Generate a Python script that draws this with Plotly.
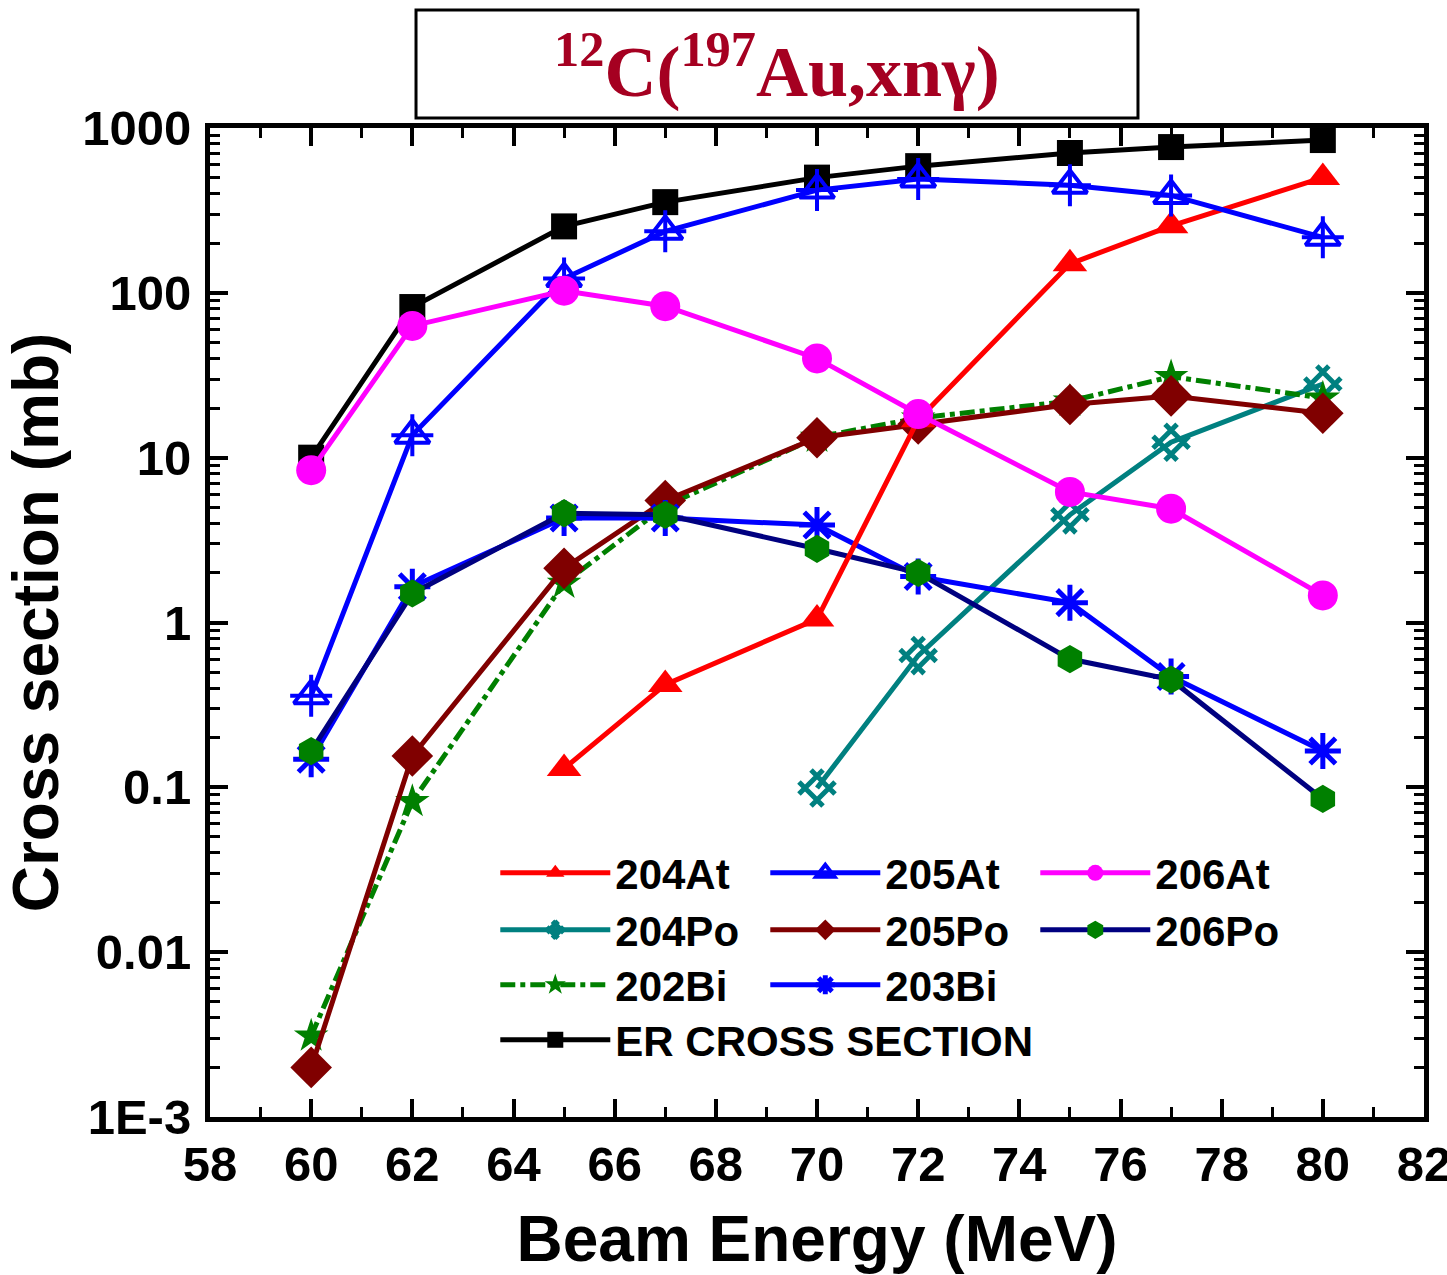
import plotly.graph_objects as go

# ---------------- data ----------------
energy = [60, 62, 65, 67, 70, 72, 75, 77, 80]
er_cs = [10, 82, 253, 355, 500, 587, 705, 766, 845]
at204_e = [65, 67, 70, 72, 75, 77, 80]
at204 = [0.13, 0.42, 1.05, 17, 150, 255, 500]
at205 = [0.36, 13.7, 122, 236, 420, 490, 450, 390, 217]
at206 = [8.4, 63, 103, 83, 40, 18.4, 6.2, 4.9, 1.46]
po204_e = [70, 72, 75, 77, 80]
po204 = [0.099, 0.63, 4.5, 12.4, 28]
po205 = [0.002, 0.155, 2.13, 5.5, 13.2, 16, 21, 23.7, 18.6]
po206 = [0.166, 1.5, 4.6, 4.5, 2.8, 2.0, 0.6, 0.45, 0.085]
bi202 = [0.0031, 0.082, 1.73, 5.1, 13.3, 17.4, 22, 31, 23]
bi203 = [0.148, 1.65, 4.3, 4.3, 3.9, 1.9, 1.32, 0.47, 0.166]

x_ticks = [58, 60, 62, 64, 66, 68, 70, 72, 74, 76, 78, 80, 82]
y_tickvals = [0.001, 0.01, 0.1, 1, 10, 100, 1000]
y_ticktext = ["1E-3", "0.01", "0.1", "1", "10", "100", "1000"]

FONT = "Liberation Sans, Arial, sans-serif"
LW = 5

fig = go.Figure()

def add(name, x, y, color, symbol, size, legend, rank, dash="solid",
        mcolor=None, mline=0, lcolor=None, angle=0):
    fig.add_trace(go.Scatter(
        x=x, y=y, name=name, mode="lines+markers",
        line=dict(color=lcolor or color, width=LW, dash=dash),
        marker=dict(symbol=symbol, size=size, color=mcolor or color, angle=angle,
                    line=dict(color=color, width=mline)),
        legend=legend, legendrank=rank))

# drawing order (back to front)
add("ER CROSS SECTION", energy, er_cs, "#000000", "square", 26, "legend4", 10)
add("204Po", po204_e, po204, "#008080", "hash-open", 34, "legend2", 4, mline=5, angle=45)
add("202Bi", energy, bi202, "#008000", "star", 26, "legend3", 7, dash="dashdot")
add("205Po", energy, po205, "#800000", "diamond", 32, "legend2", 5)
add("203Bi", energy, bi203, "#0000FF", "asterisk-open", 30, "legend3", 8, mline=5)
add("206Po", energy, po206, "#008000", "hexagon", 26, "legend2", 6,
    lcolor="#000080", mline=2)
add("204At", at204_e, at204, "#FF0000", "triangle-up", 30, "legend", 1)
add("205At", energy, at205, "#0000FF", "triangle-up-open", 30, "legend", 2, mline=4)
fig.add_trace(go.Scatter(x=energy, y=at205, mode="markers", showlegend=False,
                         marker=dict(symbol="cross-thin-open", size=30, color="#0000FF",
                                     line=dict(color="#0000FF", width=4))))
add("206At", energy, at206, "#FF00FF", "circle", 30, "legend", 3)

axis_common = dict(showline=True, linecolor="black", linewidth=5, mirror="allticks",
                   ticks="inside", ticklen=18, tickwidth=4, tickcolor="black",
                   showgrid=False, zeroline=False, automargin=False,
                   ticklabeloverflow="allow",
                   tickfont=dict(family=FONT, size=49, color="black", weight="bold"))

fig.update_xaxes(range=[58, 82], tickvals=x_ticks, ticktext=[str(v) for v in x_ticks],
                 minor=dict(ticks="inside", ticklen=10, tickwidth=3, dtick=1, tickcolor="black"),
                 title=dict(text="Beam Energy (MeV)", standoff=40,
                            font=dict(family=FONT, size=64, color="black", weight="bold")),
                 **axis_common)
fig.update_yaxes(type="log", range=[-3, 3], tickvals=y_tickvals, ticktext=y_ticktext,
                 ticklabelstandoff=4,
                 minor=dict(ticks="inside", ticklen=10, tickwidth=3, dtick="D1", tickcolor="black"),
                 title=dict(text="Cross section (mb)", standoff=10,
                            font=dict(family=FONT, size=64, color="black", weight="bold")),
                 **axis_common)

leg_common = dict(orientation="h", xanchor="left", yanchor="middle", x=0.235,
                  bgcolor="rgba(0,0,0,0)", itemwidth=110,
                  entrywidthmode="pixels",
                  font=dict(family=FONT, size=42, color="black", weight="bold"))

fig.update_layout(
    width=1447, height=1275,
    margin=dict(l=210, r=23, t=128, b=158, autoexpand=False),
    paper_bgcolor="white", plot_bgcolor="white",
    showlegend=True,
    legend=dict(y=0.2467, entrywidth=145, **leg_common),
    legend2=dict(y=0.1891, entrywidth=145, **leg_common),
    legend3=dict(y=0.1335, entrywidth=145, **leg_common),
    legend4=dict(y=0.0779, entrywidth=0, **leg_common),
    shapes=[dict(type="rect", xref="paper", yref="paper",
                 x0=0.1697, x1=0.7644, y0=1.0101, y1=1.1193,
                 line=dict(color="black", width=3), fillcolor="white")],
    annotations=[dict(xref="paper", yref="paper", x=0.467, y=1.062,
                      xanchor="center", yanchor="middle", showarrow=False,
                      text="<sup>12</sup>C(<sup>197</sup>Au,xnγ)",
                      font=dict(family="Liberation Serif, Times New Roman, serif",
                                size=72, color="#A50021", weight="bold"))],
)

fig.write_html("out.html")
